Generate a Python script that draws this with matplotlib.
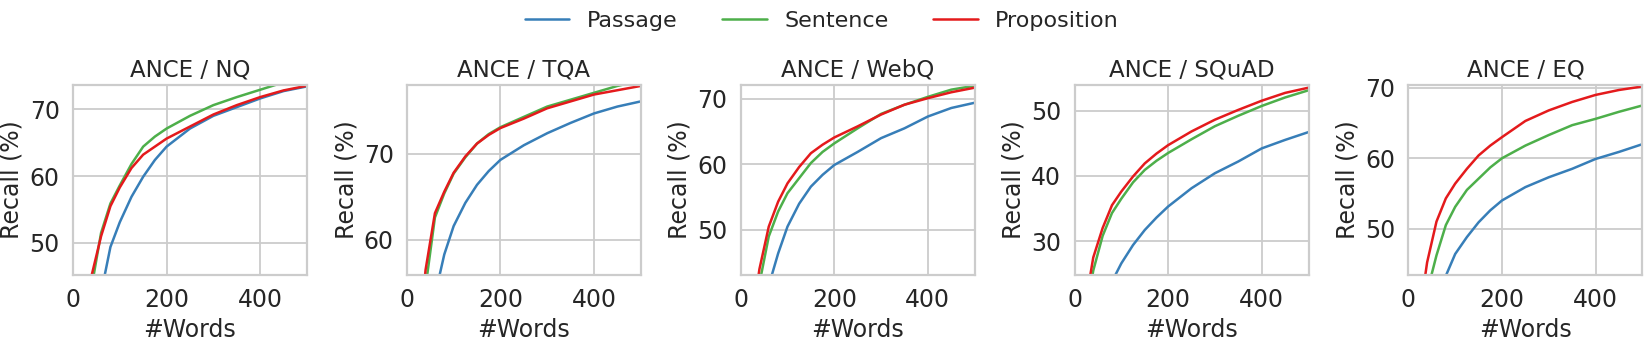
import matplotlib
matplotlib.use("Agg")
from matplotlib import pyplot as plt
from matplotlib.ticker import MultipleLocator
import seaborn as sns

sns.set_theme(style="whitegrid")
plt.rcParams['font.family'] = ['DejaVu Sans']
plt.rcParams.update({'font.size': 17, 'axes.titlesize': 16.5, 'axes.labelsize': 17,
                     'xtick.labelsize': 17, 'ytick.labelsize': 17, 'legend.fontsize': 16,
                     'axes.linewidth': 1.6, 'grid.linewidth': 1.3})

# word budget grid (x)
words = [20, 40, 60, 80, 100, 125, 150, 175, 200, 250, 300, 350, 400, 450, 500]
methods = ['Passage', 'Sentence', 'Proposition']
colors = ['#377eb8', '#4daf4a', '#e41a1c']
datasets = ['NQ', 'TQA', 'WebQ', 'SQuAD', 'EQ']

# recall (%)
nq_passage = [28, 36, 42.5, 49.4, 53.1, 56.9, 59.9, 62.4, 64.4, 67.1, 69.0, 70.3, 71.6, 72.7, 73.4]
nq_sentence = [35, 43.5, 51.5, 55.9, 58.6, 61.8, 64.4, 65.9, 67.1, 69.0, 70.6, 71.8, 72.9, 74.0, 74.8]
nq_proposition = [36, 45.2, 51.0, 55.5, 58.3, 61.2, 63.2, 64.4, 65.6, 67.4, 69.2, 70.6, 71.8, 72.8, 73.5]

tqa_passage = [40, 48, 53.5, 58.3, 61.6, 64.3, 66.4, 68.0, 69.3, 71.0, 72.4, 73.6, 74.7, 75.5, 76.1]
tqa_sentence = [43, 54.5, 62.6, 65.4, 67.7, 69.6, 71.2, 72.3, 73.1, 74.3, 75.5, 76.3, 77.1, 77.9, 78.5]
tqa_proposition = [45, 56.5, 63.1, 65.6, 67.8, 69.7, 71.2, 72.2, 73.0, 74.1, 75.3, 76.1, 76.9, 77.4, 77.9]

webq_passage = [30, 36, 41.5, 46.4, 50.5, 54.0, 56.6, 58.4, 59.9, 61.9, 64.0, 65.5, 67.3, 68.6, 69.4]
webq_sentence = [33, 41.8, 49.0, 52.8, 55.6, 57.9, 60.2, 61.9, 63.2, 65.5, 67.7, 69.1, 70.3, 71.4, 72.0]
webq_proposition = [34, 44.0, 50.5, 54.3, 57.1, 59.6, 61.7, 63.0, 64.1, 65.8, 67.6, 69.1, 70.1, 71.0, 71.7]

squad_passage = [12, 16, 20, 23.8, 26.6, 29.4, 31.7, 33.6, 35.3, 38.1, 40.4, 42.2, 44.2, 45.5, 46.7]
squad_sentence = [17, 25.5, 30.8, 34.3, 36.5, 39.0, 40.9, 42.3, 43.5, 45.6, 47.6, 49.2, 50.7, 52.0, 53.1]
squad_proposition = [19, 27.5, 32.0, 35.5, 37.6, 39.9, 41.9, 43.4, 44.7, 46.8, 48.6, 50.1, 51.5, 52.7, 53.5]

eq_passage = [30, 35, 39.5, 43.3, 46.4, 48.8, 50.9, 52.6, 54.0, 55.9, 57.3, 58.5, 59.9, 60.9, 62.0]
eq_sentence = [34, 41.0, 46.2, 50.5, 53.1, 55.5, 57.1, 58.7, 60.0, 61.8, 63.3, 64.7, 65.6, 66.6, 67.5]
eq_proposition = [36, 45.2, 51.0, 54.3, 56.4, 58.5, 60.4, 61.8, 63.0, 65.3, 66.8, 68.0, 69.0, 69.7, 70.2]

recall = [
    [nq_passage, nq_sentence, nq_proposition],
    [tqa_passage, tqa_sentence, tqa_proposition],
    [webq_passage, webq_sentence, webq_proposition],
    [squad_passage, squad_sentence, squad_proposition],
    [eq_passage, eq_sentence, eq_proposition],
]
ylims = [(45.2, 73.6), (55.9, 78.0), (43.1, 72.1), (24.8, 53.9), (43.4, 70.4)]

fig, axes = plt.subplots(1, 5, figsize=(16.44, 3.43), dpi=100)
fig.subplots_adjust(left=0.0444, right=0.999, top=0.752, bottom=0.198, wspace=0.427)

for ax, name, series, yl in zip(axes, datasets, recall, ylims):
    for m, c, vals in zip(methods, colors, series):
        ax.plot(words, vals, color=c, lw=1.8, label=m)
    ax.set_xlim(0, 500)
    ax.set_ylim(*yl)
    ax.set_xticks([0, 200, 400])
    ax.yaxis.set_major_locator(MultipleLocator(10))
    ax.set_title('ANCE / ' + name)
    ax.set_xlabel('#Words')
    ax.set_ylabel('Recall (%)')

handles, labels = axes[0].get_legend_handles_labels()
fig.legend(handles, labels, loc='center', bbox_to_anchor=(0.5, 0.94), ncol=3,
           frameon=False, columnspacing=2.0)

fig.savefig('out.png')
